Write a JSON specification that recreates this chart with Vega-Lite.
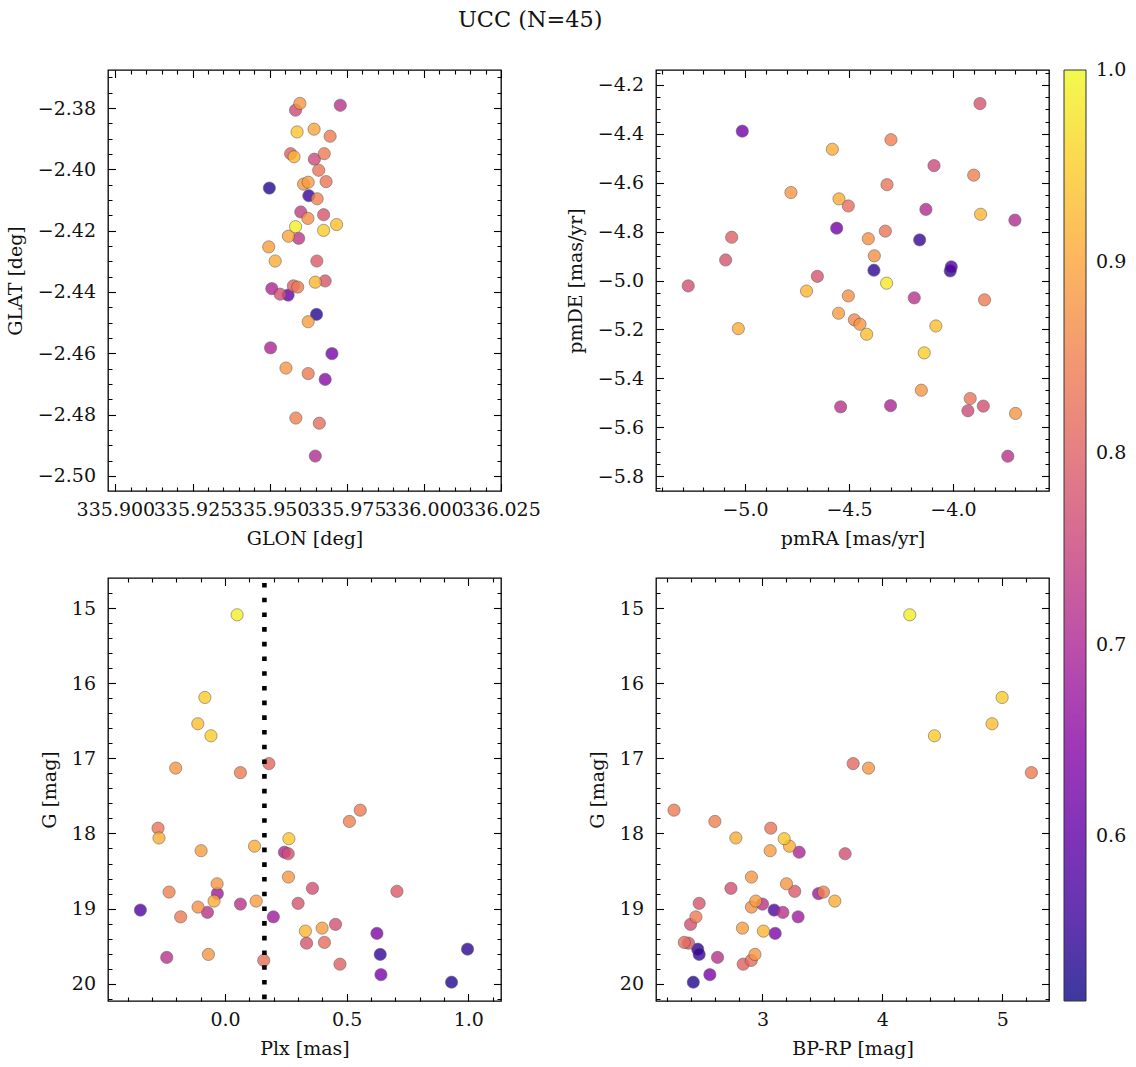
{
  "$schema": "https://vega.github.io/schema/vega-lite/v6.json",
  "padding": {"left": 5, "top": 8, "right": 5, "bottom": 5},
  "title": {"text": "UCC (N=45)", "anchor": "start", "frame": "group", "dx": 350, "offset": 32, "fontSize": 22.4, "font": "DejaVu Serif", "fontWeight": "normal", "color": "#111"},
  "config": {
    "font": "DejaVu Serif",
    "view": {"stroke": "#000", "strokeWidth": 1.3},
    "axis": {"grid": false, "domain": false, "offset": -7.5, "tickSize": 7.5, "tickColor": "#000", "tickWidth": 1.1, "labelFont": "DejaVu Serif", "labelFontSize": 19, "labelColor": "#111", "titleFont": "DejaVu Serif", "titleFontSize": 19, "titleFontWeight": "normal", "titleColor": "#111", "labelOverlap": false, "labelFlush": false, "labelBound": false},
    "axisX": {"labelPadding": 9.5, "titlePadding": 10},
    "axisY": {"labelPadding": 12.5, "titlePadding": 12}
  },
  "datasets": {
    "pos": [
      {"GLON": 335.9598, "GLAT": -2.3785, "prob": 0.88},
      {"GLON": 335.9584, "GLAT": -2.3807, "prob": 0.76},
      {"GLON": 335.9729, "GLAT": -2.3791, "prob": 0.72},
      {"GLON": 335.9589, "GLAT": -2.3878, "prob": 0.94},
      {"GLON": 335.9644, "GLAT": -2.3869, "prob": 0.90},
      {"GLON": 335.9696, "GLAT": -2.3892, "prob": 0.84},
      {"GLON": 335.9568, "GLAT": -2.3949, "prob": 0.80},
      {"GLON": 335.9579, "GLAT": -2.3959, "prob": 0.92},
      {"GLON": 335.9677, "GLAT": -2.3949, "prob": 0.84},
      {"GLON": 335.9645, "GLAT": -2.3967, "prob": 0.76},
      {"GLON": 335.9659, "GLAT": -2.4003, "prob": 0.83},
      {"GLON": 335.9683, "GLAT": -2.4040, "prob": 0.83},
      {"GLON": 335.9610, "GLAT": -2.4048, "prob": 0.88},
      {"GLON": 335.9625, "GLAT": -2.4042, "prob": 0.89},
      {"GLON": 335.9499, "GLAT": -2.4061, "prob": 0.53},
      {"GLON": 335.9627, "GLAT": -2.4086, "prob": 0.55},
      {"GLON": 335.9654, "GLAT": -2.4096, "prob": 0.85},
      {"GLON": 335.9601, "GLAT": -2.4139, "prob": 0.74},
      {"GLON": 335.9624, "GLAT": -2.4160, "prob": 0.87},
      {"GLON": 335.9675, "GLAT": -2.4148, "prob": 0.78},
      {"GLON": 335.9584, "GLAT": -2.4187, "prob": 0.99},
      {"GLON": 335.9675, "GLAT": -2.4199, "prob": 0.95},
      {"GLON": 335.9717, "GLAT": -2.4180, "prob": 0.93},
      {"GLON": 335.9561, "GLAT": -2.4218, "prob": 0.90},
      {"GLON": 335.9594, "GLAT": -2.4225, "prob": 0.73},
      {"GLON": 335.9497, "GLAT": -2.4253, "prob": 0.89},
      {"GLON": 335.9518, "GLAT": -2.4299, "prob": 0.91},
      {"GLON": 335.9653, "GLAT": -2.4299, "prob": 0.79},
      {"GLON": 335.9648, "GLAT": -2.4368, "prob": 0.92},
      {"GLON": 335.9680, "GLAT": -2.4364, "prob": 0.78},
      {"GLON": 335.9507, "GLAT": -2.4389, "prob": 0.70},
      {"GLON": 335.9534, "GLAT": -2.4407, "prob": 0.77},
      {"GLON": 335.9560, "GLAT": -2.4410, "prob": 0.60},
      {"GLON": 335.9577, "GLAT": -2.4380, "prob": 0.80},
      {"GLON": 335.9591, "GLAT": -2.4384, "prob": 0.84},
      {"GLON": 335.9652, "GLAT": -2.4473, "prob": 0.53},
      {"GLON": 335.9625, "GLAT": -2.4497, "prob": 0.89},
      {"GLON": 335.9503, "GLAT": -2.4582, "prob": 0.70},
      {"GLON": 335.9702, "GLAT": -2.4601, "prob": 0.63},
      {"GLON": 335.9553, "GLAT": -2.4648, "prob": 0.88},
      {"GLON": 335.9625, "GLAT": -2.4666, "prob": 0.84},
      {"GLON": 335.9680, "GLAT": -2.4685, "prob": 0.65},
      {"GLON": 335.9585, "GLAT": -2.4811, "prob": 0.85},
      {"GLON": 335.9661, "GLAT": -2.4828, "prob": 0.82},
      {"GLON": 335.9648, "GLAT": -2.4935, "prob": 0.71}
    ],
    "pm": [
      {"pmRA": -3.870, "pmDE": -4.276, "prob": 0.78},
      {"pmRA": -5.013, "pmDE": -4.389, "prob": 0.62},
      {"pmRA": -4.298, "pmDE": -4.424, "prob": 0.85},
      {"pmRA": -4.580, "pmDE": -4.463, "prob": 0.91},
      {"pmRA": -4.091, "pmDE": -4.530, "prob": 0.76},
      {"pmRA": -3.900, "pmDE": -4.569, "prob": 0.85},
      {"pmRA": -4.317, "pmDE": -4.608, "prob": 0.83},
      {"pmRA": -4.779, "pmDE": -4.640, "prob": 0.88},
      {"pmRA": -4.548, "pmDE": -4.666, "prob": 0.91},
      {"pmRA": -4.503, "pmDE": -4.695, "prob": 0.82},
      {"pmRA": -4.130, "pmDE": -4.709, "prob": 0.71},
      {"pmRA": -3.867, "pmDE": -4.729, "prob": 0.92},
      {"pmRA": -3.702, "pmDE": -4.753, "prob": 0.71},
      {"pmRA": -4.559, "pmDE": -4.786, "prob": 0.62},
      {"pmRA": -4.325, "pmDE": -4.798, "prob": 0.83},
      {"pmRA": -4.160, "pmDE": -4.834, "prob": 0.55},
      {"pmRA": -4.407, "pmDE": -4.829, "prob": 0.87},
      {"pmRA": -5.064, "pmDE": -4.823, "prob": 0.80},
      {"pmRA": -4.378, "pmDE": -4.899, "prob": 0.87},
      {"pmRA": -5.093, "pmDE": -4.916, "prob": 0.78},
      {"pmRA": -4.380, "pmDE": -4.958, "prob": 0.54},
      {"pmRA": -4.008, "pmDE": -4.944, "prob": 0.58},
      {"pmRA": -4.013, "pmDE": -4.961, "prob": 0.55},
      {"pmRA": -4.652, "pmDE": -4.983, "prob": 0.78},
      {"pmRA": -5.273, "pmDE": -5.022, "prob": 0.77},
      {"pmRA": -4.319, "pmDE": -5.011, "prob": 0.98},
      {"pmRA": -4.704, "pmDE": -5.043, "prob": 0.92},
      {"pmRA": -4.503, "pmDE": -5.063, "prob": 0.87},
      {"pmRA": -4.186, "pmDE": -5.071, "prob": 0.72},
      {"pmRA": -3.848, "pmDE": -5.079, "prob": 0.84},
      {"pmRA": -4.550, "pmDE": -5.134, "prob": 0.89},
      {"pmRA": -4.474, "pmDE": -5.161, "prob": 0.86},
      {"pmRA": -4.447, "pmDE": -5.179, "prob": 0.88},
      {"pmRA": -4.415, "pmDE": -5.220, "prob": 0.93},
      {"pmRA": -5.032, "pmDE": -5.197, "prob": 0.91},
      {"pmRA": -4.082, "pmDE": -5.186, "prob": 0.93},
      {"pmRA": -4.138, "pmDE": -5.296, "prob": 0.95},
      {"pmRA": -4.152, "pmDE": -5.449, "prob": 0.88},
      {"pmRA": -3.917, "pmDE": -5.483, "prob": 0.83},
      {"pmRA": -3.928, "pmDE": -5.533, "prob": 0.76},
      {"pmRA": -3.854, "pmDE": -5.514, "prob": 0.77},
      {"pmRA": -4.540, "pmDE": -5.517, "prob": 0.72},
      {"pmRA": -4.300, "pmDE": -5.512, "prob": 0.70},
      {"pmRA": -3.699, "pmDE": -5.544, "prob": 0.88},
      {"pmRA": -3.736, "pmDE": -5.719, "prob": 0.72}
    ],
    "phot": [
      {"Plx": 0.0495, "G": 15.09, "BPRP": 4.228, "prob": 0.99},
      {"Plx": -0.0831, "G": 16.19, "BPRP": 4.998, "prob": 0.95},
      {"Plx": -0.1122, "G": 16.54, "BPRP": 4.914, "prob": 0.93},
      {"Plx": -0.0580, "G": 16.70, "BPRP": 4.434, "prob": 0.95},
      {"Plx": -0.2032, "G": 17.13, "BPRP": 3.884, "prob": 0.88},
      {"Plx": 0.0630, "G": 17.19, "BPRP": 5.242, "prob": 0.84},
      {"Plx": 0.1801, "G": 17.07, "BPRP": 3.756, "prob": 0.81},
      {"Plx": 0.5557, "G": 17.69, "BPRP": 2.262, "prob": 0.84},
      {"Plx": 0.5112, "G": 17.84, "BPRP": 2.603, "prob": 0.85},
      {"Plx": -0.2757, "G": 17.93, "BPRP": 3.069, "prob": 0.83},
      {"Plx": -0.2719, "G": 18.06, "BPRP": 2.778, "prob": 0.91},
      {"Plx": 0.2624, "G": 18.07, "BPRP": 3.181, "prob": 0.94},
      {"Plx": -0.0986, "G": 18.23, "BPRP": 3.064, "prob": 0.89},
      {"Plx": 0.1211, "G": 18.17, "BPRP": 3.225, "prob": 0.91},
      {"Plx": 0.2440, "G": 18.25, "BPRP": 3.306, "prob": 0.70},
      {"Plx": 0.2595, "G": 18.27, "BPRP": 3.689, "prob": 0.77},
      {"Plx": 0.2605, "G": 18.58, "BPRP": 2.908, "prob": 0.88},
      {"Plx": 0.3592, "G": 18.73, "BPRP": 2.737, "prob": 0.77},
      {"Plx": 0.7067, "G": 18.77, "BPRP": 3.269, "prob": 0.79},
      {"Plx": -0.2303, "G": 18.78, "BPRP": 3.508, "prob": 0.85},
      {"Plx": -0.0328, "G": 18.67, "BPRP": 3.200, "prob": 0.88},
      {"Plx": -0.0318, "G": 18.80, "BPRP": 3.467, "prob": 0.68},
      {"Plx": -0.0454, "G": 18.90, "BPRP": 3.603, "prob": 0.91},
      {"Plx": -0.1112, "G": 18.98, "BPRP": 2.908, "prob": 0.87},
      {"Plx": 0.0630, "G": 18.94, "BPRP": 3.000, "prob": 0.72},
      {"Plx": 0.1279, "G": 18.90, "BPRP": 2.944, "prob": 0.89},
      {"Plx": 0.3002, "G": 18.93, "BPRP": 2.472, "prob": 0.78},
      {"Plx": -0.3483, "G": 19.02, "BPRP": 3.097, "prob": 0.58},
      {"Plx": -0.0725, "G": 19.05, "BPRP": 3.170, "prob": 0.72},
      {"Plx": -0.1828, "G": 19.11, "BPRP": 2.445, "prob": 0.84},
      {"Plx": 0.1985, "G": 19.11, "BPRP": 3.297, "prob": 0.68},
      {"Plx": 0.4541, "G": 19.21, "BPRP": 2.400, "prob": 0.77},
      {"Plx": 0.3302, "G": 19.30, "BPRP": 3.008, "prob": 0.92},
      {"Plx": 0.3989, "G": 19.26, "BPRP": 2.833, "prob": 0.89},
      {"Plx": 0.6244, "G": 19.33, "BPRP": 3.106, "prob": 0.64},
      {"Plx": 0.3350, "G": 19.46, "BPRP": 2.383, "prob": 0.78},
      {"Plx": 0.4086, "G": 19.45, "BPRP": 2.348, "prob": 0.82},
      {"Plx": 0.9970, "G": 19.54, "BPRP": 2.460, "prob": 0.54},
      {"Plx": 0.6380, "G": 19.61, "BPRP": 2.472, "prob": 0.55},
      {"Plx": -0.2399, "G": 19.65, "BPRP": 2.625, "prob": 0.72},
      {"Plx": -0.0686, "G": 19.61, "BPRP": 2.937, "prob": 0.88},
      {"Plx": 0.1588, "G": 19.69, "BPRP": 2.906, "prob": 0.82},
      {"Plx": 0.4724, "G": 19.74, "BPRP": 2.839, "prob": 0.80},
      {"Plx": 0.6409, "G": 19.88, "BPRP": 2.561, "prob": 0.63},
      {"Plx": 0.9312, "G": 19.98, "BPRP": 2.423, "prob": 0.53}
    ]
  },
  "concat": [
    {
      "width": 393, "height": 421,
      "data": {"name": "pos"},
      "layer": [
        {
          "mark": {"type": "circle", "size": 150, "opacity": 0.8, "stroke": "#444", "strokeWidth": 0.6},
          "encoding": {
            "x": {"field": "GLON", "type": "quantitative", "scale": {"domain": [335.8976, 336.025], "nice": false, "zero": false},
              "axis": {"title": "GLON [deg]", "format": ".3f", "labelOverlap": false, "values": [335.900,335.905,335.910,335.915,335.920,335.925,335.930,335.935,335.940,335.945,335.950,335.955,335.960,335.965,335.970,335.975,335.980,335.985,335.990,335.995,336.000,336.005,336.010,336.015,336.020,336.025],
                "labelExpr": "abs(datum.value*40 - round(datum.value*40)) < 0.01 ? datum.label : ''",
                "tickDash": {"condition": {"test": "abs(datum.value*40 - round(datum.value*40)) >= 0.01", "value": [0, 3.5, 4, 30]}, "value": [10, 0]}}},
            "y": {"field": "GLAT", "type": "quantitative", "scale": {"domain": [-2.5049, -2.3676], "nice": false, "zero": false},
              "axis": {"title": "GLAT [deg]", "format": ".2f", "labelOverlap": false, "values": [-2.370,-2.375,-2.380,-2.385,-2.390,-2.395,-2.400,-2.405,-2.410,-2.415,-2.420,-2.425,-2.430,-2.435,-2.440,-2.445,-2.450,-2.455,-2.460,-2.465,-2.470,-2.475,-2.480,-2.485,-2.490,-2.495,-2.500],
                "labelExpr": "abs(datum.value*50 - round(datum.value*50)) < 0.01 ? datum.label : ''",
                "tickDash": {"condition": {"test": "abs(datum.value*50 - round(datum.value*50)) >= 0.01", "value": [0, 3.5, 4, 30]}, "value": [10, 0]}}},
            "color": {"field": "prob", "type": "quantitative", "scale": {"scheme": "plasma", "domain": [0.514, 1.0001]},
              "legend": {"title": null, "orient": "right", "offset": 13, "direction": "vertical", "gradientLength": 931, "gradientThickness": 22, "values": [0.6, 0.7, 0.8, 0.9, 1.0], "format": ".1f", "labelFont": "DejaVu Serif", "labelFontSize": 19, "labelColor": "#111", "labelOffset": 10, "labelBaseline": "middle", "gradientStrokeColor": "#000", "gradientStrokeWidth": 1, "labelOverlap": false}},
            "order": {"field": "prob", "type": "quantitative"}
          }
        },
        {
          "mark": {"type": "circle", "opacity": 0},
          "encoding": {
            "x": {"field": "GLON", "type": "quantitative",
              "axis": {"orient": "top", "labels": false, "title": null, "values": [335.900,335.905,335.910,335.915,335.920,335.925,335.930,335.935,335.940,335.945,335.950,335.955,335.960,335.965,335.970,335.975,335.980,335.985,335.990,335.995,336.000,336.005,336.010,336.015,336.020,336.025],
                "tickDash": {"condition": {"test": "abs(datum.value*40 - round(datum.value*40)) >= 0.01", "value": [0, 3.5, 4, 30]}, "value": [10, 0]}}},
            "y": {"field": "GLAT", "type": "quantitative",
              "axis": {"orient": "right", "labels": false, "title": null, "values": [-2.370,-2.375,-2.380,-2.385,-2.390,-2.395,-2.400,-2.405,-2.410,-2.415,-2.420,-2.425,-2.430,-2.435,-2.440,-2.445,-2.450,-2.455,-2.460,-2.465,-2.470,-2.475,-2.480,-2.485,-2.490,-2.495,-2.500],
                "tickDash": {"condition": {"test": "abs(datum.value*50 - round(datum.value*50)) >= 0.01", "value": [0, 3.5, 4, 30]}, "value": [10, 0]}}}
          }
        }
      ],
      "resolve": {"axis": {"x": "independent", "y": "independent"}}
    },
    {
      "width": 393, "height": 421,
      "data": {"name": "pm"},
      "layer": [
        {
          "mark": {"type": "circle", "size": 150, "opacity": 0.8, "stroke": "#444", "strokeWidth": 0.6},
          "encoding": {
            "x": {"field": "pmRA", "type": "quantitative", "scale": {"domain": [-5.428, -3.538], "nice": false, "zero": false},
              "axis": {"title": "pmRA [mas/yr]", "format": ".1f", "labelOverlap": false, "values": [-5.4,-5.3,-5.2,-5.1,-5.0,-4.9,-4.8,-4.7,-4.6,-4.5,-4.4,-4.3,-4.2,-4.1,-4.0,-3.9,-3.8,-3.7,-3.6],
                "labelExpr": "abs(datum.value*2 - round(datum.value*2)) < 0.01 ? datum.label : ''",
                "tickDash": {"condition": {"test": "abs(datum.value*2 - round(datum.value*2)) >= 0.01", "value": [0, 3.5, 4, 30]}, "value": [10, 0]}}},
            "y": {"field": "pmDE", "type": "quantitative", "scale": {"domain": [-5.8613, -4.1387], "nice": false, "zero": false},
              "axis": {"title": "pmDE [mas/yr]", "format": ".1f", "labelOverlap": false, "values": [-4.15,-4.2,-4.25,-4.3,-4.35,-4.4,-4.45,-4.5,-4.55,-4.6,-4.65,-4.7,-4.75,-4.8,-4.85,-4.9,-4.95,-5.0,-5.05,-5.1,-5.15,-5.2,-5.25,-5.3,-5.35,-5.4,-5.45,-5.5,-5.55,-5.6,-5.65,-5.7,-5.75,-5.8,-5.85],
                "labelExpr": "abs(datum.value*5 - round(datum.value*5)) < 0.01 ? datum.label : ''",
                "tickDash": {"condition": {"test": "abs(datum.value*5 - round(datum.value*5)) >= 0.01", "value": [0, 3.5, 4, 30]}, "value": [10, 0]}}},
            "color": {"field": "prob", "type": "quantitative", "scale": {"scheme": "plasma", "domain": [0.514, 1.0001]}},
            "order": {"field": "prob", "type": "quantitative"}
          }
        },
        {
          "mark": {"type": "circle", "opacity": 0},
          "encoding": {
            "x": {"field": "pmRA", "type": "quantitative",
              "axis": {"orient": "top", "labels": false, "title": null, "values": [-5.4,-5.3,-5.2,-5.1,-5.0,-4.9,-4.8,-4.7,-4.6,-4.5,-4.4,-4.3,-4.2,-4.1,-4.0,-3.9,-3.8,-3.7,-3.6],
                "tickDash": {"condition": {"test": "abs(datum.value*2 - round(datum.value*2)) >= 0.01", "value": [0, 3.5, 4, 30]}, "value": [10, 0]}}},
            "y": {"field": "pmDE", "type": "quantitative",
              "axis": {"orient": "right", "labels": false, "title": null, "values": [-4.15,-4.2,-4.25,-4.3,-4.35,-4.4,-4.45,-4.5,-4.55,-4.6,-4.65,-4.7,-4.75,-4.8,-4.85,-4.9,-4.95,-5.0,-5.05,-5.1,-5.15,-5.2,-5.25,-5.3,-5.35,-5.4,-5.45,-5.5,-5.55,-5.6,-5.65,-5.7,-5.75,-5.8,-5.85],
                "tickDash": {"condition": {"test": "abs(datum.value*5 - round(datum.value*5)) >= 0.01", "value": [0, 3.5, 4, 30]}, "value": [10, 0]}}}
          }
        }
      ],
      "resolve": {"axis": {"x": "independent", "y": "independent"}}
    },
    {
      "width": 393, "height": 423,
      "data": {"name": "phot"},
      "layer": [
        {
          "mark": {"type": "circle", "size": 150, "opacity": 0.8, "stroke": "#444", "strokeWidth": 0.6},
          "encoding": {
            "x": {"field": "Plx", "type": "quantitative", "scale": {"domain": [-0.4815, 1.1346], "nice": false, "zero": false},
              "axis": {"title": "Plx [mas]", "format": ".1f", "labelOverlap": false, "values": [-0.4,-0.3,-0.2,-0.1,0.0,0.1,0.2,0.3,0.4,0.5,0.6,0.7,0.8,0.9,1.0,1.1],
                "labelExpr": "abs(datum.value*2 - round(datum.value*2)) < 0.01 && datum.value > -0.3 ? datum.label : ''",
                "tickDash": {"condition": {"test": "abs(datum.value*2 - round(datum.value*2)) >= 0.01", "value": [0, 3.5, 4, 30]}, "value": [10, 0]}}},
            "y": {"field": "G", "type": "quantitative", "scale": {"domain": [14.6, 20.23], "nice": false, "zero": false, "reverse": true},
              "axis": {"title": "G [mag]", "format": ".0f", "labelOverlap": false, "values": [14.8,15,15.2,15.4,15.6,15.8,16,16.2,16.4,16.6,16.8,17,17.2,17.4,17.6,17.8,18,18.2,18.4,18.6,18.8,19,19.2,19.4,19.6,19.8,20,20.2],
                "labelExpr": "abs(datum.value - round(datum.value)) < 0.01 ? datum.label : ''",
                "tickDash": {"condition": {"test": "abs(datum.value - round(datum.value)) >= 0.01", "value": [0, 3.5, 4, 30]}, "value": [10, 0]}}},
            "color": {"field": "prob", "type": "quantitative", "scale": {"scheme": "plasma", "domain": [0.514, 1.0001]}},
            "order": {"field": "prob", "type": "quantitative"}
          }
        },
        {
          "data": {"values": [{"plx_cut": 0.1617}]},
          "mark": {"type": "rule", "color": "#000", "strokeWidth": 4.6, "strokeDash": [4.6, 10.1], "strokeCap": "butt", "strokeDashOffset": -5},
          "encoding": {
            "x": {"field": "plx_cut", "type": "quantitative", "axis": null}
          }
        },
        {
          "mark": {"type": "circle", "opacity": 0},
          "encoding": {
            "x": {"field": "Plx", "type": "quantitative",
              "axis": {"orient": "top", "labels": false, "title": null, "values": [-0.4,-0.3,-0.2,-0.1,0.0,0.1,0.2,0.3,0.4,0.5,0.6,0.7,0.8,0.9,1.0,1.1],
                "tickDash": {"condition": {"test": "abs(datum.value*2 - round(datum.value*2)) >= 0.01", "value": [0, 3.5, 4, 30]}, "value": [10, 0]}}},
            "y": {"field": "G", "type": "quantitative",
              "axis": {"orient": "right", "labels": false, "title": null, "values": [14.8,15,15.2,15.4,15.6,15.8,16,16.2,16.4,16.6,16.8,17,17.2,17.4,17.6,17.8,18,18.2,18.4,18.6,18.8,19,19.2,19.4,19.6,19.8,20,20.2],
                "tickDash": {"condition": {"test": "abs(datum.value - round(datum.value)) >= 0.01", "value": [0, 3.5, 4, 30]}, "value": [10, 0]}}}
          }
        }
      ],
      "resolve": {"axis": {"x": "independent", "y": "independent"}}
    },
    {
      "width": 393, "height": 423,
      "data": {"name": "phot"},
      "layer": [
        {
          "mark": {"type": "circle", "size": 150, "opacity": 0.8, "stroke": "#444", "strokeWidth": 0.6},
          "encoding": {
            "x": {"field": "BPRP", "type": "quantitative", "scale": {"domain": [2.112, 5.389], "nice": false, "zero": false},
              "axis": {"title": "BP-RP [mag]", "format": ".0f", "labelOverlap": false, "values": [2.2,2.4,2.6,2.8,3.0,3.2,3.4,3.6,3.8,4.0,4.2,4.4,4.6,4.8,5.0,5.2],
                "labelExpr": "abs(datum.value - round(datum.value)) < 0.01 ? datum.label : ''",
                "tickDash": {"condition": {"test": "abs(datum.value - round(datum.value)) >= 0.01", "value": [0, 3.5, 4, 30]}, "value": [10, 0]}}},
            "y": {"field": "G", "type": "quantitative", "scale": {"domain": [14.6, 20.23], "nice": false, "zero": false, "reverse": true},
              "axis": {"title": "G [mag]", "format": ".0f", "labelOverlap": false, "values": [14.8,15,15.2,15.4,15.6,15.8,16,16.2,16.4,16.6,16.8,17,17.2,17.4,17.6,17.8,18,18.2,18.4,18.6,18.8,19,19.2,19.4,19.6,19.8,20,20.2],
                "labelExpr": "abs(datum.value - round(datum.value)) < 0.01 ? datum.label : ''",
                "tickDash": {"condition": {"test": "abs(datum.value - round(datum.value)) >= 0.01", "value": [0, 3.5, 4, 30]}, "value": [10, 0]}}},
            "color": {"field": "prob", "type": "quantitative", "scale": {"scheme": "plasma", "domain": [0.514, 1.0001]}},
            "order": {"field": "prob", "type": "quantitative"}
          }
        },
        {
          "mark": {"type": "circle", "opacity": 0},
          "encoding": {
            "x": {"field": "BPRP", "type": "quantitative",
              "axis": {"orient": "top", "labels": false, "title": null, "values": [2.2,2.4,2.6,2.8,3.0,3.2,3.4,3.6,3.8,4.0,4.2,4.4,4.6,4.8,5.0,5.2],
                "tickDash": {"condition": {"test": "abs(datum.value - round(datum.value)) >= 0.01", "value": [0, 3.5, 4, 30]}, "value": [10, 0]}}},
            "y": {"field": "G", "type": "quantitative",
              "axis": {"orient": "right", "labels": false, "title": null, "values": [14.8,15,15.2,15.4,15.6,15.8,16,16.2,16.4,16.6,16.8,17,17.2,17.4,17.6,17.8,18,18.2,18.4,18.6,18.8,19,19.2,19.4,19.6,19.8,20,20.2],
                "tickDash": {"condition": {"test": "abs(datum.value - round(datum.value)) >= 0.01", "value": [0, 3.5, 4, 30]}, "value": [10, 0]}}}
          }
        }
      ],
      "resolve": {"axis": {"x": "independent", "y": "independent"}}
    }
  ],
  "columns": 2,
  "spacing": {"row": 87, "column": 155},
  "bounds": "flush"
}
